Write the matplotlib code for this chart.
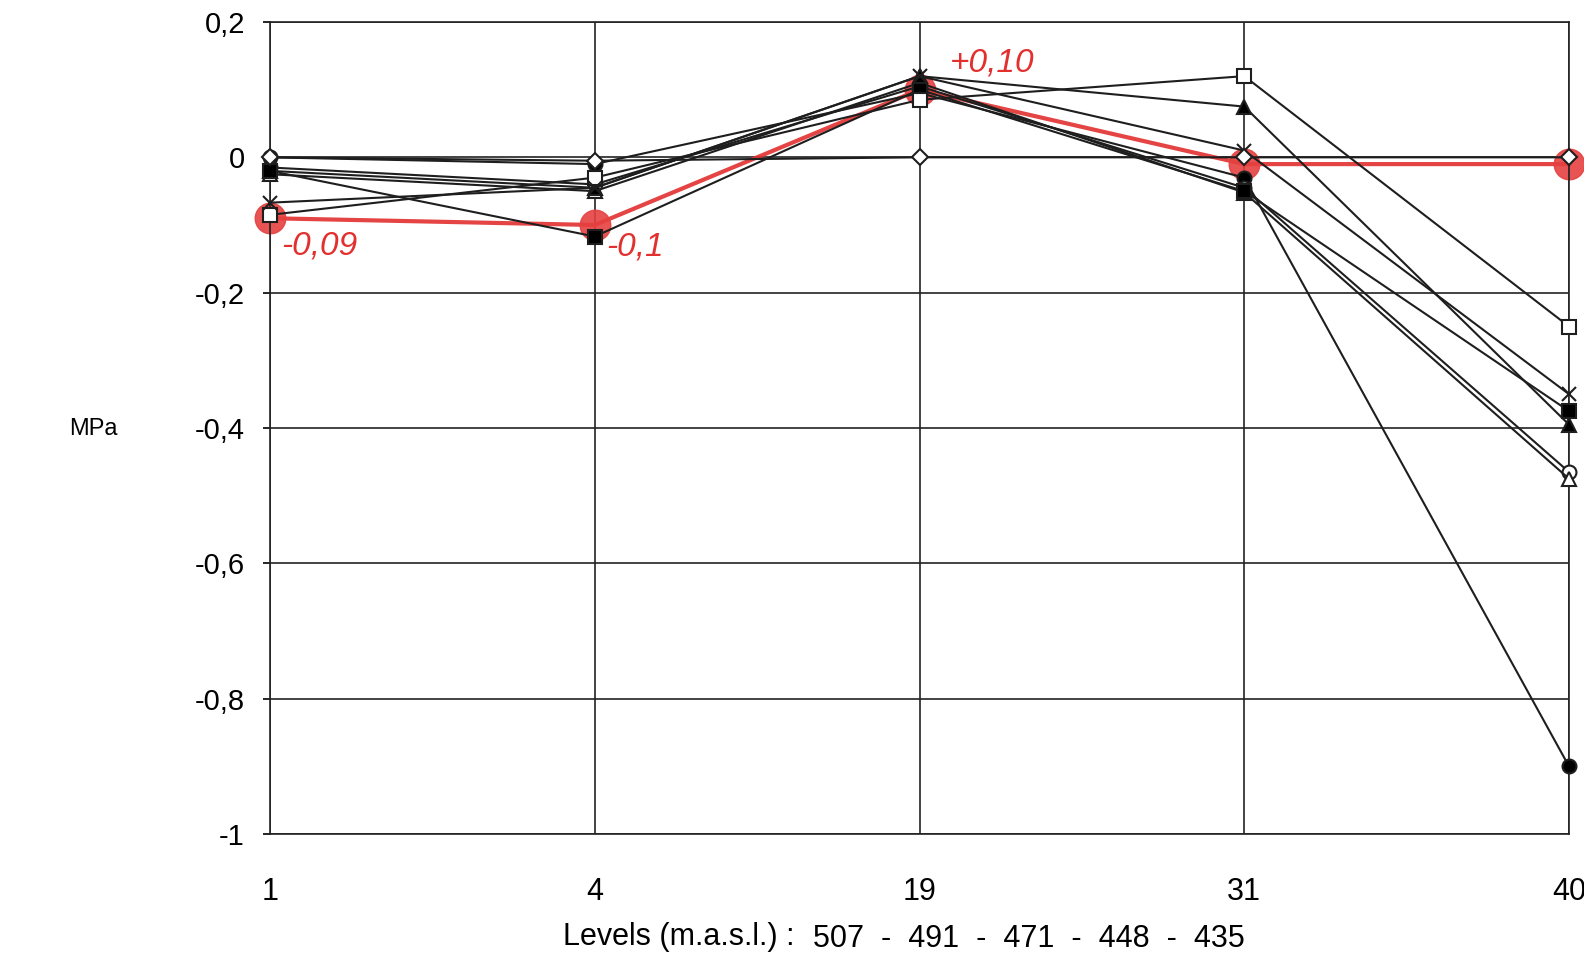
import matplotlib
matplotlib.use("Agg")
import matplotlib.pyplot as plt
import numpy as np

# sampling points and their levels
points = ["1", "4", "19", "31", "40"]
levels = ["507", "491", "471", "448", "435"]

# pressure change (MPa) per series
filled_circle = [0.0, -0.01, 0.095, -0.03, -0.90]
open_circle = [-0.015, -0.04, 0.105, -0.045, -0.465]
open_triangle = [-0.025, -0.05, 0.11, -0.052, -0.475]
filled_triangle = [-0.02, -0.045, 0.12, 0.075, -0.395]
filled_square = [-0.02, -0.117, 0.10, -0.05, -0.375]
open_square = [-0.085, -0.03, 0.085, 0.12, -0.25]
cross = [-0.067, -0.045, 0.12, 0.01, -0.35]
diamond = [0.0, -0.005, 0.0, 0.0, 0.0]

# red hand-drawn mean line and its notes
red_mean = [-0.09, -0.1, 0.10, -0.01, -0.01]
red_notes = ["-0,09", "-0,1", "+0,10", "", ""]

yticks = [0.2, 0, -0.2, -0.4, -0.6, -0.8, -1]

plt.rcParams['font.family'] = ['Liberation Sans', 'DejaVu Sans']

W, H = 1584, 959
fig = plt.figure(figsize=(W / 100, H / 100), dpi=100)
# axes box in pixels: left 270, right 1569, top 22, bottom 834
ax = fig.add_axes([270 / W, 1 - 834 / H, (1569 - 270) / W, (834 - 22) / H])

x = np.arange(len(points))

# red annotation underneath
ax.plot(x, red_mean, color="#e2302f", lw=3, alpha=0.9, zorder=2,
        marker="o", ms=22, mfc="#e64040", mec="#e64040", clip_on=False)
offsets = {"-0,09": (8, -20), "-0,1": (8, -16), "+0,10": (22, 19)}
for xi, v, note in zip(x, red_mean, red_notes):
    if note:
        ax.annotate(note, (xi, v), xytext=offsets[note], textcoords="offset points",
                    color="#e2302f", fontsize=24, style="italic",
                    ha="left", va="center", zorder=3)

series = [
    (filled_circle, "o", "black"),
    (open_circle, "o", "white"),
    (open_triangle, "^", "white"),
    (filled_triangle, "^", "black"),
    (filled_square, "s", "black"),
    (open_square, "s", "white"),
    (cross, "x", "black"),
    (diamond, "D", "white"),
]
for vals, m, fc in series:
    ms = 8 if m == "D" else 10
    ax.plot(x, vals, color="#1e1e1e", lw=1.5, marker=m, ms=ms, mfc=fc,
            mec="#1e1e1e", mew=1.5, zorder=4, clip_on=False)

ax.set_xlim(0, len(points) - 1)
ax.set_ylim(-1, 0.2)
ax.set_xticks(x)
ax.set_xticklabels(points, fontsize=22)
ax.set_yticks(yticks)
ax.set_yticklabels([f"{t:g}".replace(".", ",") for t in yticks], fontsize=21)
ax.tick_params(axis="x", length=0, pad=31)
ax.tick_params(axis="y", length=5, width=1.2, pad=13, direction="out")
ax.grid(True, color="#222222", lw=1.2)
for s in ax.spines.values():
    s.set_color("#222222")
    s.set_linewidth(1.2)

fig.text(93 / W, 1 - 429 / H, "MPa", fontsize=17, ha="center", va="center")
fig.text(563 / W, 1 - 937 / H, "Levels (m.a.s.l.) :", fontsize=22,
         ha="left", va="center")
fig.text(813 / W, 1 - 939 / H, "  -  ".join(levels), fontsize=22,
         ha="left", va="center")

fig.savefig("out.png", dpi=100)
